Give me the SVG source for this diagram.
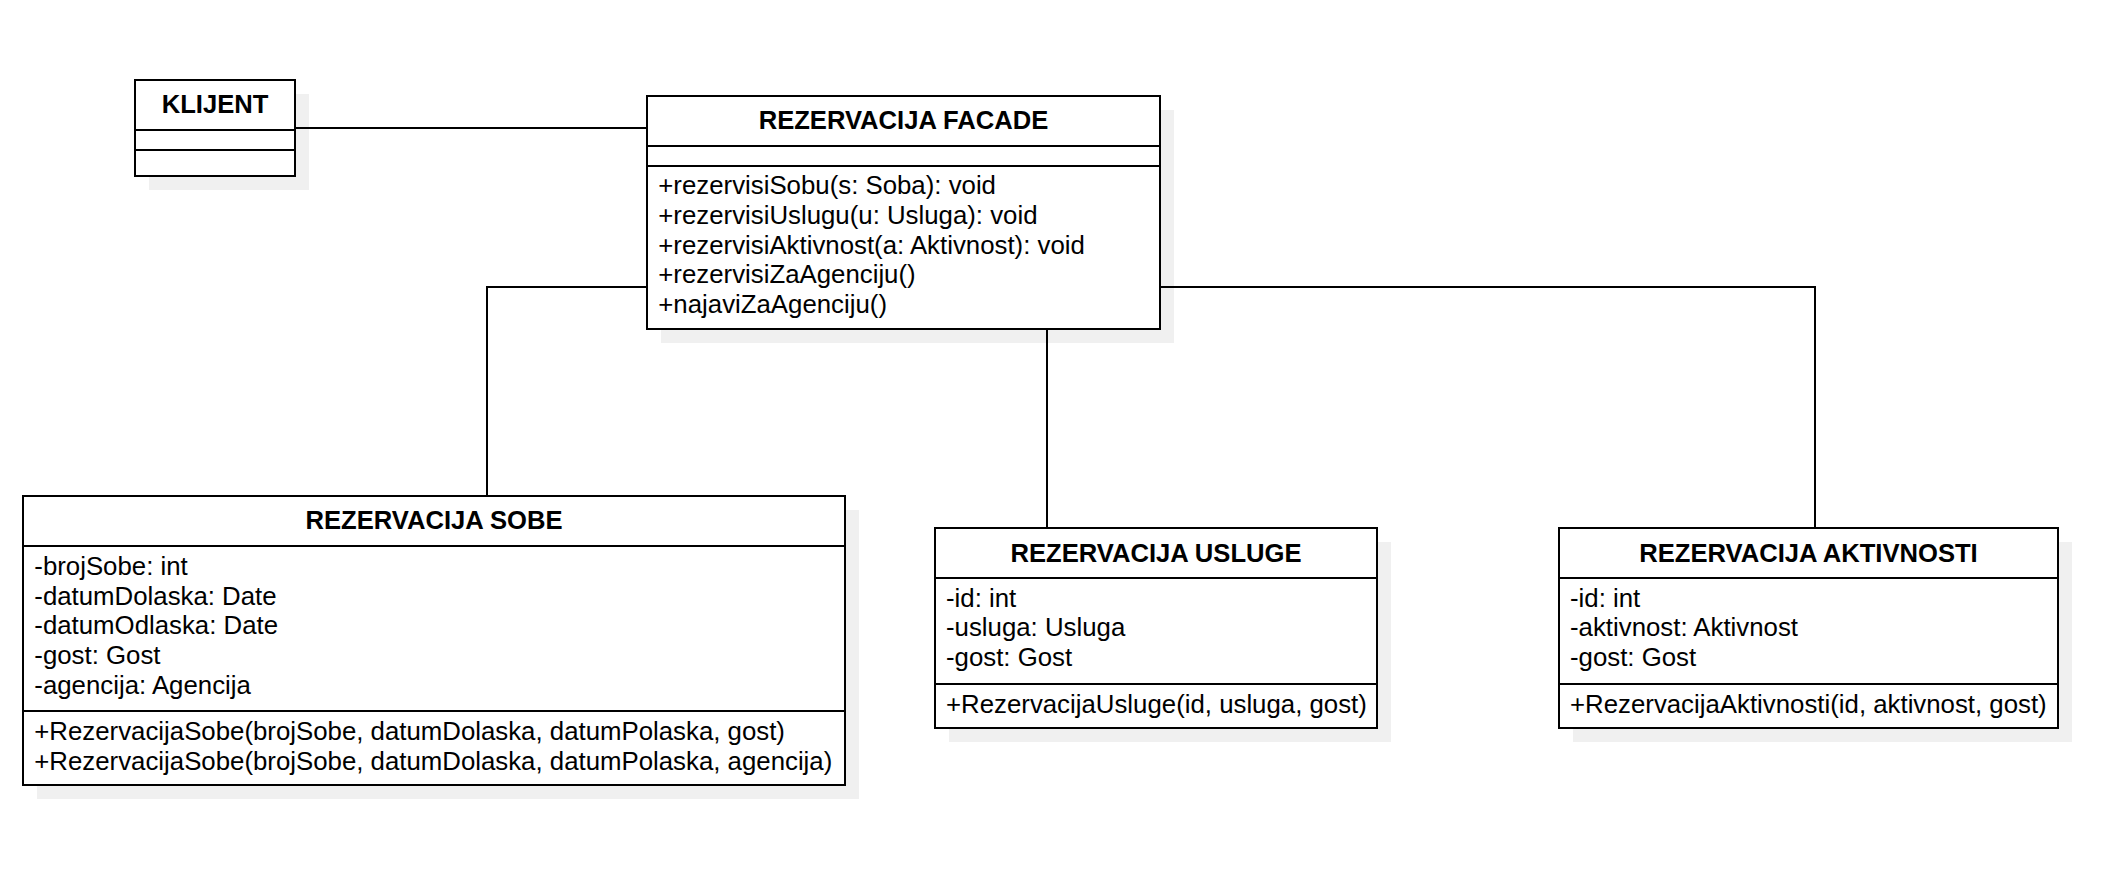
<svg xmlns="http://www.w3.org/2000/svg" width="2101" height="889" viewBox="0 0 2101 889">
<style>
.bg{fill:#ffffff}
.sh{fill:#f0f0f0;stroke:none}
.box{fill:#ffffff;stroke:#000000;stroke-width:2}
.sep{stroke:#000000;stroke-width:2;fill:none}
.con{stroke:#000000;stroke-width:2;fill:none}
.h{font-family:"Liberation Sans",Arial,sans-serif;font-weight:bold;font-size:25.6px;fill:#000000;text-anchor:middle}
.t{font-family:"Liberation Sans",Arial,sans-serif;font-size:25.8px;fill:#000000}
</style>
<rect class="bg" x="0" y="0" width="2101" height="889"/>

<g id="klijent">
<rect class="sh" x="149" y="94" width="160" height="96"/>
<rect class="box" x="135" y="80" width="160" height="96"/>
<line class="sep" x1="135" y1="130" x2="295" y2="130"/>
<line class="sep" x1="135" y1="150" x2="295" y2="150"/>
<text class="h" x="215" y="112.7">KLIJENT</text>
</g>

<g id="facade">
<rect class="sh" x="661" y="110" width="513" height="233"/>
<rect class="box" x="647" y="96" width="513" height="233"/>
<line class="sep" x1="647" y1="146" x2="1160" y2="146"/>
<line class="sep" x1="647" y1="166" x2="1160" y2="166"/>
<text class="h" x="903.5" y="129">REZERVACIJA FACADE</text>
<text class="t">
<tspan x="658.3" y="194.3">+rezervisiSobu(s: Soba): void</tspan>
<tspan x="658.3" y="223.95">+rezervisiUslugu(u: Usluga): void</tspan>
<tspan x="658.3" y="253.6">+rezervisiAktivnost(a: Aktivnost): void</tspan>
<tspan x="658.3" y="283.25">+rezervisiZaAgenciju()</tspan>
<tspan x="658.3" y="312.9">+najaviZaAgenciju()</tspan>
</text>
</g>

<g id="sobe">
<rect class="sh" x="37" y="510" width="822" height="289"/>
<rect class="box" x="23" y="496" width="822" height="289"/>
<line class="sep" x1="23" y1="546" x2="845" y2="546"/>
<line class="sep" x1="23" y1="711" x2="845" y2="711"/>
<text class="h" x="434" y="529">REZERVACIJA SOBE</text>
<text class="t">
<tspan x="34.3" y="575">-brojSobe: int</tspan>
<tspan x="34.3" y="604.65">-datumDolaska: Date</tspan>
<tspan x="34.3" y="634.3">-datumOdlaska: Date</tspan>
<tspan x="34.3" y="663.95">-gost: Gost</tspan>
<tspan x="34.3" y="693.6">-agencija: Agencija</tspan>
</text>
<text class="t">
<tspan x="34.3" y="740">+RezervacijaSobe(brojSobe, datumDolaska, datumPolaska, gost)</tspan>
<tspan x="34.3" y="769.65">+RezervacijaSobe(brojSobe, datumDolaska, datumPolaska, agencija)</tspan>
</text>
</g>

<g id="usluge">
<rect class="sh" x="949" y="542" width="442" height="200"/>
<rect class="box" x="935" y="528" width="442" height="200"/>
<line class="sep" x1="935" y1="578" x2="1377" y2="578"/>
<line class="sep" x1="935" y1="684" x2="1377" y2="684"/>
<text class="h" x="1156" y="561.5">REZERVACIJA USLUGE</text>
<text class="t">
<tspan x="946" y="606.7">-id: int</tspan>
<tspan x="946" y="636.35">-usluga: Usluga</tspan>
<tspan x="946" y="666">-gost: Gost</tspan>
</text>
<text class="t" x="946" y="712.7">+RezervacijaUsluge(id, usluga, gost)</text>
</g>

<g id="aktivnosti">
<rect class="sh" x="1573" y="542" width="499" height="200"/>
<rect class="box" x="1559" y="528" width="499" height="200"/>
<line class="sep" x1="1559" y1="578" x2="2058" y2="578"/>
<line class="sep" x1="1559" y1="684" x2="2058" y2="684"/>
<text class="h" x="1808.5" y="561.5">REZERVACIJA AKTIVNOSTI</text>
<text class="t">
<tspan x="1570" y="606.7">-id: int</tspan>
<tspan x="1570" y="636.35">-aktivnost: Aktivnost</tspan>
<tspan x="1570" y="666">-gost: Gost</tspan>
</text>
<text class="t" x="1570" y="712.7">+RezervacijaAktivnosti(id, aktivnost, gost)</text>
</g>

<g id="connectors">
<path class="con" d="M295,128 L647,128"/>
<path class="con" d="M647,287 L487,287 L487,496"/>
<path class="con" d="M1047,329 L1047,528"/>
<path class="con" d="M1160,287 L1815,287 L1815,528"/>
</g>
</svg>
